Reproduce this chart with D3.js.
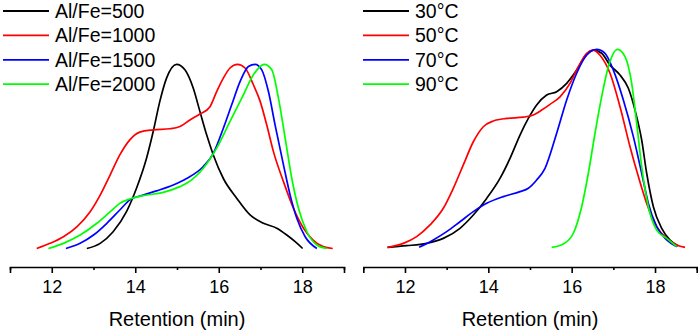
<!DOCTYPE html>
<html><head><meta charset="utf-8">
<script src="https://cdn.jsdelivr.net/npm/d3@7"></script>
<style>body{margin:0;background:#fff}svg{display:block}text{font-family:"Liberation Sans",Arial,sans-serif;fill:#000}</style>
</head><body>
<svg id="c" width="700" height="331"></svg>
<script>
// ---- data (retention time in min, normalized intensity) ----
const leftLabels = ["Al/Fe=500","Al/Fe=1000","Al/Fe=1500","Al/Fe=2000"];
const rightLabels = ["30°C","50°C","70°C","90°C"];
const colors = ["#000000","#ff0000","#0000ff","#00ff00"];
const xTicks = [12,14,16,18];
const xMinorTicks = [11,13,15,17,19];
const axisTitle = "Retention (min)";

const alFe500 = [[12.84,0],[13.16,0.028],[13.47,0.091],[13.79,0.2],[14.03,0.327],[14.27,0.49],[14.43,0.635],[14.59,0.8],[14.75,0.925],[14.99,1.0],[15.19,0.97],[15.39,0.87],[15.55,0.743],[15.71,0.617],[15.87,0.508],[16.11,0.38],[16.43,0.273],[16.75,0.182],[17.07,0.137],[17.39,0.11],[17.63,0.073],[17.83,0.037],[18.01,0]];
const alFe1000 = [[11.64,0],[11.96,0.028],[12.28,0.064],[12.6,0.118],[12.92,0.2],[13.16,0.29],[13.4,0.4],[13.63,0.508],[13.87,0.59],[14.11,0.632],[14.43,0.644],[14.83,0.65],[15.07,0.662],[15.31,0.698],[15.55,0.73],[15.79,0.77],[15.95,0.852],[16.11,0.925],[16.27,0.98],[16.45,1.0],[16.63,0.98],[16.83,0.889],[16.99,0.8],[17.15,0.67],[17.31,0.526],[17.55,0.363],[17.79,0.218],[18.03,0.11],[18.26,0.046],[18.5,0.01],[18.73,0]];
const alFe1500 = [[12.34,0],[12.68,0.028],[13.0,0.073],[13.32,0.137],[13.63,0.209],[13.87,0.264],[14.19,0.29],[14.51,0.313],[14.91,0.345],[15.23,0.38],[15.63,0.445],[15.87,0.517],[16.11,0.653],[16.31,0.78],[16.51,0.906],[16.71,0.988],[16.87,1.0],[17.03,0.97],[17.19,0.852],[17.35,0.67],[17.55,0.454],[17.71,0.29],[17.87,0.164],[18.07,0.064],[18.35,0]];
const alFe2000 = [[11.92,0],[12.28,0.028],[12.68,0.073],[13.08,0.137],[13.4,0.2],[13.63,0.245],[13.87,0.269],[14.19,0.287],[14.67,0.305],[15.07,0.336],[15.23,0.354],[15.63,0.436],[15.95,0.545],[16.27,0.69],[16.59,0.834],[16.83,0.943],[17.09,1.0],[17.27,0.97],[17.43,0.816],[17.59,0.6],[17.75,0.38],[17.91,0.218],[18.11,0.091],[18.35,0.019],[18.59,0]];

const t30 = [[11.58,0],[12.04,0.008],[12.52,0.02],[12.92,0.045],[13.32,0.096],[13.64,0.163],[13.96,0.247],[14.28,0.348],[14.52,0.449],[14.76,0.567],[14.96,0.651],[15.16,0.719],[15.4,0.769],[15.64,0.786],[15.88,0.828],[16.12,0.895],[16.32,0.963],[16.52,0.996],[16.72,0.98],[16.92,0.92],[17.16,0.87],[17.36,0.803],[17.52,0.693],[17.68,0.542],[17.8,0.374],[17.96,0.205],[18.16,0.096],[18.36,0.037],[18.56,0.006]];
const t50 = [[11.58,0],[11.96,0.02],[12.28,0.054],[12.6,0.113],[12.92,0.197],[13.16,0.298],[13.4,0.416],[13.64,0.533],[13.88,0.609],[14.12,0.638],[14.44,0.651],[14.84,0.657],[15.08,0.668],[15.28,0.693],[15.48,0.722],[15.72,0.76],[15.96,0.828],[16.16,0.912],[16.36,0.98],[16.52,0.996],[16.68,0.97],[16.92,0.879],[17.16,0.71],[17.4,0.508],[17.6,0.357],[17.8,0.222],[18.04,0.104],[18.28,0.045],[18.52,0.012],[18.72,0]];
const t70 = [[12.34,0],[12.68,0.037],[13.0,0.079],[13.32,0.129],[13.64,0.18],[13.96,0.222],[14.36,0.256],[14.76,0.281],[14.96,0.298],[15.16,0.34],[15.36,0.399],[15.64,0.576],[15.88,0.744],[16.12,0.879],[16.36,0.971],[16.6,1.0],[16.8,0.98],[17.0,0.895],[17.24,0.744],[17.48,0.559],[17.68,0.374],[17.84,0.222],[18.04,0.104],[18.28,0.037],[18.52,0.003]];
const t90 = [[15.52,0],[15.8,0.017],[16.04,0.071],[16.24,0.205],[16.4,0.374],[16.56,0.576],[16.72,0.761],[16.88,0.912],[17.1,1.0],[17.28,0.963],[17.44,0.828],[17.56,0.626],[17.68,0.407],[17.84,0.205],[18.04,0.087],[18.28,0.045],[18.52,0.003]];

const panels = [
  {series:[alFe500,alFe1000,alFe1500,alFe2000], labels:leftLabels, x0:10, x1:344, yBase:248.5, yTop:64.3, legX:3},
  {series:[t30,t50,t70,t90], labels:rightLabels, x0:363.3, x1:696.7, yBase:247.3, yTop:49.3, legX:363}
];

const svg = d3.select("#c");
const axisY = 267;

panels.forEach(p => {
  const x = d3.scaleLinear().domain([11,19]).range([p.x0,p.x1]);
  const y = d3.scaleLinear().domain([0,1]).range([p.yBase,p.yTop]);
  const g = svg.append("g");

  // axis
  const ax = g.append("g").attr("transform",`translate(0,${axisY})`)
    .call(d3.axisBottom(x).tickValues(xTicks).tickSize(6).tickPadding(7).tickFormat(d3.format("d")));
  ax.select(".domain").attr("stroke","#000").attr("stroke-width",1.6);
  ax.selectAll(".tick line").attr("stroke","#000").attr("stroke-width",1.6);
  ax.selectAll(".tick text").attr("font-size",18).attr("font-family","Liberation Sans, Arial, sans-serif");
  const minor = g.append("g").attr("transform",`translate(0,${axisY})`)
    .call(d3.axisBottom(x).tickValues(xMinorTicks).tickSize(3).tickFormat(""));
  minor.select(".domain").remove();
  minor.selectAll(".tick line").attr("stroke","#000").attr("stroke-width",1.6);

  g.append("text").attr("x",(p.x0+p.x1)/2).attr("y",326).attr("text-anchor","middle")
    .attr("font-size",20).text(axisTitle);

  const line = d3.line().x(d=>x(d[0])).y(d=>y(d[1])).curve(d3.curveMonotoneX);
  p.series.forEach((s,i) => {
    g.append("path").datum(s).attr("d",line).attr("fill","none")
      .attr("stroke",colors[i]).attr("stroke-width",1.7);
  });

  // legend
  p.labels.forEach((lab,i) => {
    const ly = 11 + i*24.4;
    g.append("line").attr("x1",p.legX).attr("x2",p.legX+46).attr("y1",ly).attr("y2",ly)
      .attr("stroke",colors[i]).attr("stroke-width",1.8);
    g.append("text").attr("x",p.legX+52).attr("y",ly).attr("dy","0.36em")
      .attr("font-size",19.5).text(lab);
  });
});
</script>
</body></html>
